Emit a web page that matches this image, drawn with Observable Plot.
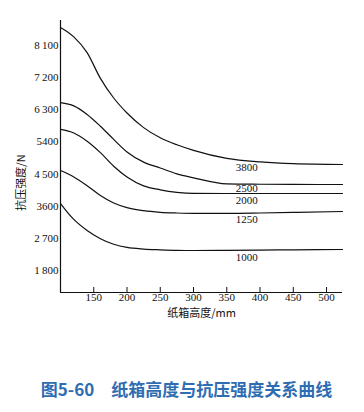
<!DOCTYPE html>
<html>
<head>
<meta charset="utf-8">
<script src="https://cdn.jsdelivr.net/npm/d3@7"></script>
<script src="https://cdn.jsdelivr.net/npm/@observablehq/plot@0.6"></script>
<style>
  html, body { margin: 0; padding: 0; background: #fff; }
  #chart svg { display: block; }
</style>
</head>
<body>
<div id="chart"></div>
<script>
// Box height (mm) sample points
const heights = [100, 120, 140, 160, 180, 200, 225, 250, 275, 300, 350, 400, 450, 524];
// Compression strength (N) for each curve
const s3800 = [8604, 8340, 7900, 7180, 6630, 6210, 5800, 5515, 5320, 5165, 4940, 4840, 4790, 4768];
const s2500 = [6500, 6410, 6170, 5840, 5470, 5120, 4835, 4670, 4505, 4395, 4225, 4215, 4210, 4208];
const s2000 = [5750, 5650, 5420, 5100, 4720, 4420, 4170, 4060, 3990, 3960, 3956, 3956, 3956, 3956];
const s1250 = [4600, 4420, 4175, 3900, 3690, 3560, 3475, 3430, 3410, 3400, 3400, 3410, 3425, 3452];
const s1000 = [3676, 3230, 2920, 2690, 2535, 2445, 2400, 2380, 2365, 2360, 2365, 2372, 2378, 2388];

const seriesNames = ["3800", "2500", "2000", "1250", "1000"];
const seriesValues = [s3800, s2500, s2000, s1250, s1000];
const labelHeight = 380;
const labelStrength = [4684, 4096, 3760, 3228, 2164];

const xTicks = [150, 200, 250, 300, 350, 400, 450, 500];
const yTicks = [8100, 7200, 6300, 5400, 4500, 3600, 2700, 1800];
const yTickLabels = ["8\u2009100", "7\u2009200", "6\u2009300", "5400", "4\u2009500", "3600", "2\u2009700", "1\u2009800"];

const xDomain = [100, 524];
const yDomain = [1184, 8800];

const xTitle = "纸箱高度/mm";
const yTitle = "抗压强度/N";
const yTitleAt = 4264;
const caption = "图5-60\u2003纸箱高度与抗压强度关系曲线";

const rows = seriesNames.flatMap((name, i) =>
  heights.map((h, j) => ({series: name, height: h, strength: seriesValues[i][j]}))
);
const labels = seriesNames.map((name, i) => ({series: name, height: labelHeight, strength: labelStrength[i]}));

const serif = "'Liberation Serif', 'Times New Roman', serif";
const cjk = "'Noto Sans CJK SC', sans-serif";

const chart = Plot.plot({
  width: 364,
  height: 412,
  marginLeft: 60,
  marginRight: 22,
  marginTop: 20,
  marginBottom: 120,
  style: {fontFamily: serif, fontSize: "11px", color: "#111", background: "#fff"},
  x: {domain: xDomain},
  y: {domain: yDomain},
  marks: [
    Plot.axisX({ticks: xTicks, tickSize: -5, tickPadding: 6, label: null, fontSize: 11, fontFamily: serif}),
    Plot.axisY({ticks: yTicks, tickSize: 0, tickPadding: 2, label: null, fontSize: 11, fontFamily: serif,
      tickFormat: (d) => yTickLabels[yTicks.indexOf(d)]}),
    Plot.ruleX([xDomain[0]], {stroke: "#111", strokeWidth: 1.2}),
    Plot.ruleY([yDomain[0]], {stroke: "#111", strokeWidth: 1.2}),
    Plot.line(rows, {x: "height", y: "strength", z: "series", curve: "monotone-x", stroke: "#111", strokeWidth: 1.2}),
    Plot.text(labels, {x: "height", y: "strength", text: "series", fontFamily: serif, fontSize: 11, fill: "#111"}),
    Plot.text([xTitle], {frameAnchor: "bottom", dy: 24, text: (d) => d, fontFamily: cjk, fontSize: 11, fill: "#111"}),
    Plot.text([yTitle], {y: () => yTitleAt, frameAnchor: "left", textAnchor: "middle", dx: -39, rotate: -90, text: (d) => d, fontFamily: cjk, fontSize: 11, fill: "#111"}),
    Plot.text([caption], {frameAnchor: "bottom", dx: -15, dy: 103, text: (d) => d, fontFamily: cjk, fontSize: 17, fontWeight: "bold", fill: "#2f6db3"})
  ]
});
document.getElementById("chart").appendChild(chart);
</script>
</body>
</html>
